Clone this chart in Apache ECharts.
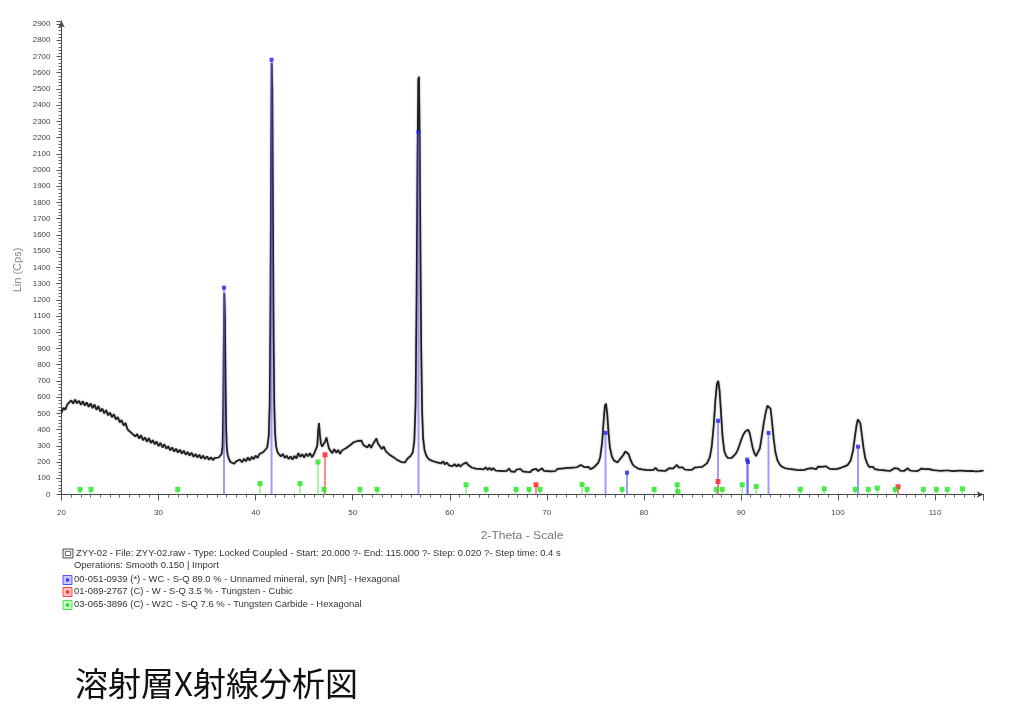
<!DOCTYPE html>
<html><head><meta charset="utf-8">
<script src="https://cdn.jsdelivr.net/npm/echarts@6/dist/echarts.min.js"></script>
<style>html,body{margin:0;padding:0;background:#fff}#c{width:1025px;height:719px}</style>
</head><body><div id="c"></div>
<script>
// measured scan: [2-theta, Lin (Cps)]
const scanPoints = [
[20.0,505],[20.2,535],[20.4,522],[20.6,556],[20.8,545],[21.0,580],[21.2,560],[21.4,585],[21.6,562],[21.8,578],
[22.0,552],[22.2,575],[22.4,548],[22.6,568],[22.8,540],[23.0,562],[23.2,532],[23.4,555],[23.6,522],[23.8,545],
[24.0,512],[24.2,530],[24.4,500],[24.6,520],[24.8,488],[25.0,505],[25.2,476],[25.4,495],[25.6,462],[25.8,478],
[26.0,445],[26.2,458],[26.4,425],[26.6,440],[26.8,402],[27.0,412],[27.2,380],[27.4,392],[27.6,358],[27.8,372],
[28.0,345],[28.2,365],[28.4,335],[28.6,352],[28.8,325],[29.0,348],[29.2,318],[29.4,335],[29.6,310],[29.8,326],
[30.0,298],[30.2,318],[30.4,290],[30.6,310],[30.8,282],[31.0,298],[31.2,272],[31.4,290],[31.6,265],[31.8,282],
[32.0,258],[32.2,276],[32.4,252],[32.6,270],[32.8,245],[33.0,262],[33.2,240],[33.4,258],[33.6,232],[33.8,250],
[34.0,228],[34.2,245],[34.4,222],[34.6,240],[34.8,218],[35.0,235],[35.2,214],[35.4,230],[35.6,212],[35.8,226],
[36.0,215],[36.2,228],[36.4,235],[36.5,250],[36.6,300],[36.66,520],[36.72,950],[36.78,1240],[36.84,1100],[36.9,700],
[36.96,420],[37.02,300],[37.1,250],[37.2,228],[37.4,200],[37.6,212],[37.8,190],[38.0,205],[38.2,195],[38.4,215],
[38.6,198],[38.8,220],[39.0,205],[39.2,228],[39.4,210],[39.6,232],[39.8,218],[40.0,240],[40.2,225],[40.4,250],
[40.6,238],[40.8,262],[41.0,265],[41.2,290],[41.35,360],[41.45,560],[41.53,1200],[41.6,2100],[41.66,2660],[41.72,2500],
[41.78,1800],[41.85,1000],[41.92,560],[42.0,380],[42.1,300],[42.25,262],[42.4,248],[42.6,235],[42.8,250],[43.0,225],
[43.2,240],[43.4,218],[43.6,235],[43.8,215],[44.0,238],[44.2,222],[44.4,255],[44.6,232],[44.8,248],[45.0,228],
[45.2,252],[45.4,235],[45.6,255],[45.8,230],[46.0,248],[46.2,252],[46.35,300],[46.45,400],[46.53,440],[46.62,370],
[46.72,318],[46.85,295],[47.0,300],[47.15,325],[47.3,352],[47.42,318],[47.55,285],[47.7,270],[47.9,255],[48.1,280],
[48.3,258],[48.5,275],[48.7,250],[48.9,272],[49.1,268],[49.3,285],[49.5,275],[49.7,302],[49.9,295],[50.1,322],
[50.3,312],[50.5,330],[50.7,318],[50.9,332],[51.1,305],[51.3,315],[51.5,290],[51.7,308],[51.9,288],[52.1,312],
[52.3,310],[52.45,345],[52.6,315],[52.8,305],[53.0,280],[53.2,295],[53.4,268],[53.6,275],[53.8,245],[54.0,255],
[54.2,230],[54.4,238],[54.6,212],[54.8,222],[55.0,200],[55.2,210],[55.4,198],[55.6,218],[55.8,222],[56.0,240],
[56.2,262],[56.35,330],[56.48,560],[56.58,1200],[56.68,2100],[56.76,2560],[56.83,2575],[56.9,2200],[56.98,1500],[57.06,900],
[57.15,520],[57.25,350],[57.4,275],[57.55,245],[57.7,228],[57.9,215],[58.1,225],[58.3,205],[58.5,215],[58.7,198],
[58.9,210],[59.1,192],[59.3,205],[59.5,185],[59.7,198],[59.9,180],[60.1,192],[60.3,175],[60.5,188],[60.7,172],
[60.9,186],[61.1,172],[61.3,185],[61.5,180],[61.7,198],[61.9,182],[62.1,178],[62.3,165],[62.5,176],[62.7,160],
[62.9,172],[63.1,158],[63.3,170],[63.5,155],[63.7,168],[63.9,152],[64.1,165],[64.3,150],[64.5,163],[64.7,148],
[64.9,160],[65.1,146],[65.3,158],[65.5,144],[65.7,156],[65.9,146],[66.1,160],[66.3,143],[66.5,155],[66.7,140],
[66.9,154],[67.1,142],[67.3,157],[67.5,143],[67.7,155],[67.9,140],[68.1,152],[68.3,138],[68.5,152],[68.7,142],
[68.9,158],[69.1,144],[69.3,155],[69.5,162],[69.7,146],[69.9,158],[70.1,144],[70.3,156],[70.5,142],[70.7,154],
[70.9,145],[71.1,158],[71.3,146],[71.5,160],[71.7,148],[71.9,162],[72.1,150],[72.3,164],[72.5,152],[72.7,166],
[72.9,155],[73.1,168],[73.3,170],[73.5,182],[73.7,188],[73.9,168],[74.1,162],[74.3,170],[74.5,156],[74.7,168],
[74.9,170],[75.1,182],[75.3,195],[75.5,230],[75.7,320],[75.85,450],[75.98,545],[76.1,560],[76.22,500],[76.36,380],
[76.5,290],[76.7,235],[76.9,210],[77.1,205],[77.3,198],[77.5,215],[77.7,222],[77.9,245],[78.08,265],[78.26,272],
[78.42,250],[78.6,218],[78.8,190],[79.0,175],[79.2,176],[79.4,160],[79.6,170],[79.8,155],[80.0,167],[80.2,152],
[80.4,164],[80.6,150],[80.8,162],[81.0,152],[81.2,165],[81.4,149],[81.6,160],[81.8,147],[82.0,158],[82.2,145],
[82.4,157],[82.6,162],[82.8,150],[83.0,160],[83.2,168],[83.4,182],[83.6,166],[83.8,158],[84.0,168],[84.2,154],
[84.4,165],[84.6,152],[84.8,163],[85.0,153],[85.2,166],[85.4,155],[85.6,168],[85.8,157],[86.0,170],[86.2,172],
[86.5,192],[86.8,230],[87.0,300],[87.2,430],[87.38,590],[87.52,680],[87.66,700],[87.8,640],[87.95,500],[88.1,360],
[88.28,270],[88.45,240],[88.65,225],[88.85,235],[89.05,226],[89.25,238],[89.45,250],[89.65,272],[89.85,305],[90.05,340],
[90.25,370],[90.45,388],[90.62,397],[90.75,400],[90.9,378],[91.05,335],[91.2,290],[91.38,255],[91.55,236],[91.75,248],
[91.95,285],[92.15,360],[92.35,440],[92.55,505],[92.72,548],[92.9,560],[93.05,530],[93.2,450],[93.38,340],[93.55,262],
[93.75,212],[93.95,190],[94.15,174],[94.35,172],[94.55,162],[94.75,172],[94.95,158],[95.15,168],[95.35,155],[95.55,166],
[95.75,152],[95.95,164],[96.15,150],[96.35,162],[96.55,152],[96.75,148],[96.95,160],[97.15,150],[97.35,162],[97.55,166],
[97.75,156],[97.95,172],[98.15,160],[98.35,170],[98.55,158],[98.75,174],[98.95,162],[99.15,158],[99.35,170],[99.55,156],
[99.75,167],[99.95,158],[100.15,168],[100.35,166],[100.55,168],[100.75,175],[101.0,182],[101.3,210],[101.55,270],[101.75,360],
[101.92,430],[102.05,462],[102.17,468],[102.3,440],[102.45,370],[102.62,290],[102.8,225],[103.0,192],[103.2,170],[103.4,167],
[103.6,170],[103.8,156],[104.0,167],[104.2,152],[104.4,164],[104.6,150],[104.8,160],[105.0,147],[105.2,159],[105.4,146],
[105.6,157],[105.8,162],[106.0,150],[106.2,160],[106.4,147],[106.6,158],[106.8,145],[107.0,157],[107.2,162],[107.4,148],
[107.6,158],[107.8,145],[108.0,156],[108.2,144],[108.4,155],[108.6,160],[108.8,148],[109.0,157],[109.2,145],[109.4,156],
[109.6,162],[109.8,150],[110.0,159],[110.2,148],[110.4,158],[110.6,146],[110.8,157],[111.0,148],[111.2,160],[111.4,148],
[111.6,157],[111.8,144],[112.0,154],[112.2,146],[112.4,157],[112.6,148],[112.8,159],[113.0,146],[113.2,154],[113.4,144],
[113.6,155],[113.8,146],[114.0,152],[114.2,142],[114.4,152],[114.6,144],[114.8,154],[115.0,148]
];
// reference patterns: [2-theta, height]
const wcSticks = [[36.74,1275],[41.64,2680],[56.78,2235],[76.05,380],[78.26,135],[87.64,455],[90.64,215],[90.72,200],[92.84,380],[102.06,295]];
const wSticks = [[47.15,245],[68.89,60],[87.64,80],[106.19,48]];
const w2cSticks = [[21.91,32],[23.04,32],[31.97,32],[40.45,68],[44.57,68],[46.42,200],[47.04,32],[50.75,32],[52.50,32],[61.68,60],[63.74,32],[66.83,32],[68.17,32],[69.30,32],[73.63,62],[74.15,32],[77.76,32],[81.06,32],[83.43,60],[83.50,20],[87.45,32],[88.07,32],[90.13,60],[91.57,50],[96.11,32],[98.58,35],[101.78,32],[103.12,32],[104.05,40],[105.90,32],[108.79,32],[110.13,32],[111.26,32],[112.81,35]];
const legendLines = [
  'ZYY-02 - File: ZYY-02.raw - Type: Locked Coupled - Start: 20.000 ?- End: 115.000 ?- Step: 0.020 ?- Step time: 0.4 s',
  'Operations: Smooth 0.150 | Import',
  '00-051-0939 (*) - WC - S-Q 89.0 % - Unnamed mineral, syn [NR] - Hexagonal',
  '01-089-2767 (C) - W - S-Q 3.5 % - Tungsten - Cubic',
  '03-065-3896 (C) - W2C - S-Q 7.6 % - Tungsten Carbide - Hexagonal'
];
const captionText = '溶射層X射線分析図';

function stickSeries(data, color, width) {
  return {
    type: 'custom', data: data, z: 3, silent: true, encode: {x: 0, y: 1},
    renderItem: function (params, api) {
      const x = api.value(0), h = api.value(1);
      const a = api.coord([x, 0]), b = api.coord([x, h]);
      return {type: 'line', shape: {x1: a[0], y1: a[1], x2: b[0], y2: b[1]},
        style: {stroke: color, lineWidth: width}};
    }
  };
}
function markerSeries(data, color, sym, size) {
  return {type: 'scatter', data: data, z: 4, silent: true, symbol: sym, symbolSize: size,
    itemStyle: {color: color}};
}

const chart = echarts.init(document.getElementById('c'), null, {renderer: 'canvas'});
const FF = '"Liberation Sans", Arial, sans-serif';
const legendY = [554, 566, 580, 592, 605];
const graphics = [];
legendLines.forEach(function (t, i) {
  graphics.push({type: 'text', x: i === 0 ? 76 : 74, y: legendY[i], scaleX: 1.1,
    style: {text: t, fontSize: 8.6, fontFamily: FF, fill: '#333', verticalAlign: 'middle'}});
});
// legend icons
graphics.push({type: 'rect', shape: {x: 63, y: 549, width: 10, height: 9}, style: {fill: '#e4e4e4', stroke: '#555', lineWidth: 1}});
graphics.push({type: 'rect', shape: {x: 65.5, y: 551.5, width: 5, height: 4}, style: {fill: '#fff', stroke: '#555', lineWidth: 0.8}});
[['#c8c8ff', '#3030ff', 580], ['#ffc8c8', '#ff2020', 592], ['#c8ffc8', '#20e020', 605]].forEach(function (c) {
  graphics.push({type: 'rect', shape: {x: 63, y: c[2] - 4.5, width: 9, height: 9}, style: {fill: c[0], stroke: c[1], lineWidth: 0.8}});
  graphics.push({type: 'rect', shape: {x: 66, y: c[2] - 1.5, width: 3, height: 3}, style: {fill: c[1]}});
});
graphics.push({type: 'text', x: 18, y: 270, rotation: Math.PI / 2,
  style: {text: 'Lin (Cps)', fontSize: 11, fontFamily: FF, fill: '#888', align: 'center', verticalAlign: 'middle'}});
graphics.push({type: 'text', x: 522, y: 536, scaleX: 1.1,
  style: {text: '2-Theta - Scale', fontSize: 11, fontFamily: FF, fill: '#777', align: 'center', verticalAlign: 'middle'}});
graphics.push({type: 'text', x: 75, y: 683,
  style: {text: captionText, fontSize: 33, fontFamily: '"Noto Sans CJK JP", sans-serif', fill: '#111', verticalAlign: 'middle'}});

chart.setOption({
  animation: false,
  backgroundColor: '#fff',
  grid: {left: 61.5, right: 41.4, top: 20.8, bottom: 224.5, containLabel: false},
  xAxis: {
    type: 'value', min: 20, max: 115, interval: 10,
    axisLine: {show: true, onZero: false, symbol: ['none', 'arrow'], symbolSize: [5, 7], lineStyle: {color: '#444', width: 1}},
    axisTick: {show: true, length: 6, lineStyle: {color: '#555'}},
    minorTick: {show: true, splitNumber: 10, length: 3, lineStyle: {color: '#666'}},
    axisLabel: {fontSize: 8, color: '#444', fontFamily: FF, margin: 14,
      formatter: function (v) { return v % 10 === 0 ? String(v) : ''; }},
    splitLine: {show: false}
  },
  yAxis: {
    type: 'value', min: 0, max: 2920, interval: 100,
    axisLine: {show: true, onZero: false, symbol: ['none', 'arrow'], symbolSize: [5, 7], lineStyle: {color: '#444', width: 1}},
    axisTick: {show: true, length: 5, lineStyle: {color: '#555'}},
    minorTick: {show: true, splitNumber: 5, length: 3, lineStyle: {color: '#666'}},
    axisLabel: {fontSize: 8, color: '#444', fontFamily: FF, margin: 11,
      formatter: function (v) { return v % 100 === 0 ? String(v) : ''; }},
    splitLine: {show: false}
  },
  graphic: graphics,
  series: [
    {type: 'line', data: scanPoints, showSymbol: false, symbol: 'none', z: 2, silent: true,
      lineStyle: {color: '#1e1e1e', width: 1.7, shadowColor: 'rgba(0,0,0,0.45)', shadowBlur: 2}},
    stickSeries(wcSticks, 'rgba(90,90,255,0.6)', 2),
    stickSeries(wSticks, 'rgba(255,110,110,0.8)', 2),
    stickSeries(w2cSticks, 'rgba(120,230,120,0.8)', 1.5),
    markerSeries(wcSticks, '#2020ee', 'rect', 4),
    markerSeries(wSticks, '#ff2020', 'rect', 5),
    markerSeries(w2cSticks, '#22e622', 'rect', 5)
  ]
});
</script></body></html>
